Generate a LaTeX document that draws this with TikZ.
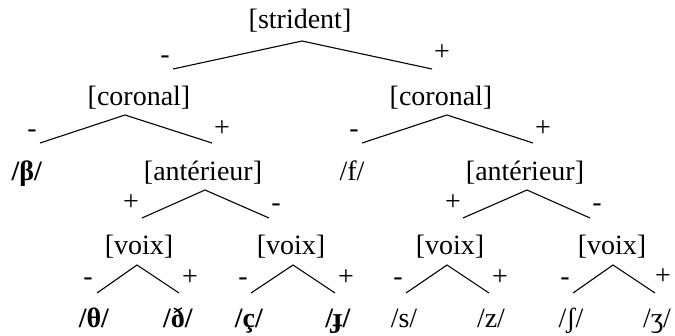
\documentclass[tikz,border=0pt]{standalone}
\usepackage{fontspec}
\setmainfont{Liberation Serif}
\usepackage{tikz}

\begin{document}
\begin{tikzpicture}[x=1pt,y=-1pt,line width=1.1pt,
    every node/.style={inner sep=0pt,anchor=base,font=\fontsize{28}{34}\selectfont}]
                        \useasboundingbox (0,0) rectangle (675,335);
                        % Nodes
                        \node (strident) at (300,28) {[strident]};
                        \node (corL) at (139,105) {[coronal]};
                        \node (corR) at (441,105) {[coronal]};
                        \node (beta) at (27,180) {\textbf{/β/}};
                        \node (antL) at (203,180) {[antérieur]};
                        \node (f) at (352,180) {/f/};
                        \node (antR) at (525,180) {[antérieur]};
                        \node (voixA) at (139,254) {[voix]};
                        \node (voixB) at (291,254) {[voix]};
                        \node (voixC) at (450,254) {[voix]};
                        \node (voixD) at (612,254) {[voix]};
                        \node (theta) at (94,327) {\textbf{/θ/}};
                        \node (eth) at (178,327) {\textbf{/ð/}};
                        \node (cced) at (249,327) {\textbf{/ç/}};
                        \node (jbar) at (338,327) {\textbf{/ɟ/}};
                        \node (s) at (404,327) {/s/};
                        \node (z) at (491,327) {/z/};
                        \node (esh) at (571,327) {/ʃ/};
                        \node (ezh) at (657,327) {/ʒ/};

                        % Signs
                        \node (strident-m) at (165,63) {-};
                        \node (strident-p) at (442,60) {+};
                        \node (corL-m) at (32,137) {-};
                        \node (corL-p) at (222,136) {+};
                        \node (corR-m) at (354,137) {-};
                        \node (corR-p) at (543,136) {+};
                        \node (antL-p) at (131,210) {+};
                        \node (antL-m) at (276,211) {-};
                        \node (antR-p) at (453,210) {+};
                        \node (antR-m) at (597,211) {-};
                        \node (voixA-m) at (88,285) {-};
                        \node (voixA-p) at (190,285) {+};
                        \node (voixB-m) at (243,285) {-};
                        \node (voixB-p) at (346,285) {+};
                        \node (voixC-m) at (398,285) {-};
                        \node (voixC-p) at (500,285) {+};
                        \node (voixD-m) at (565,285) {-};
                        \node (voixD-p) at (663,284) {+};

                        % Branch points
                        \coordinate (strident-a) at (302,41);
                        \coordinate (strident-l) at (173,69);
                        \coordinate (strident-r) at (432,69);
                        \coordinate (corL-a) at (125,115);
                        \coordinate (corL-l) at (40,143);
                        \coordinate (corL-r) at (212,143);
                        \coordinate (corR-a) at (447,115);
                        \coordinate (corR-l) at (362,143);
                        \coordinate (corR-r) at (533,143);
                        \coordinate (antL-a) at (205,190);
                        \coordinate (antL-l) at (142,218);
                        \coordinate (antL-r) at (269,218);
                        \coordinate (antR-a) at (527,190);
                        \coordinate (antR-l) at (463,218);
                        \coordinate (antR-r) at (590,218);
                        \coordinate (voixA-a) at (137,265);
                        \coordinate (voixA-l) at (97,293);
                        \coordinate (voixA-r) at (179,293);
                        \coordinate (voixB-a) at (293,265);
                        \coordinate (voixB-l) at (251,293);
                        \coordinate (voixB-r) at (335,293);
                        \coordinate (voixC-a) at (447,265);
                        \coordinate (voixC-l) at (406,293);
                        \coordinate (voixC-r) at (489,293);
                        \coordinate (voixD-a) at (613,265);
                        \coordinate (voixD-l) at (573,293);
                        \coordinate (voixD-r) at (655,293);

                        % Edges
                        \draw[-] (strident-l) -- (strident-a) -- (strident-r);
                        \draw[-] (corL-l) -- (corL-a) -- (corL-r);
                        \draw[-] (corR-l) -- (corR-a) -- (corR-r);
                        \draw[-] (antL-l) -- (antL-a) -- (antL-r);
                        \draw[-] (antR-l) -- (antR-a) -- (antR-r);
                        \draw[-] (voixA-l) -- (voixA-a) -- (voixA-r);
                        \draw[-] (voixB-l) -- (voixB-a) -- (voixB-r);
                        \draw[-] (voixC-l) -- (voixC-a) -- (voixC-r);
                        \draw[-] (voixD-l) -- (voixD-a) -- (voixD-r);
                    \end{tikzpicture}
\end{document}
